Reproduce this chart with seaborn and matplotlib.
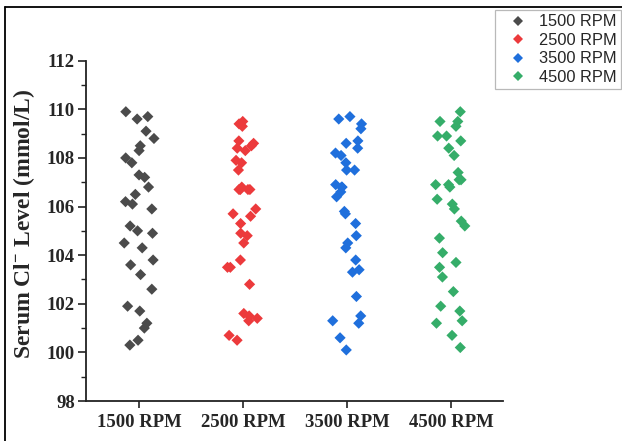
import numpy as np
import pandas as pd
import matplotlib
matplotlib.use("Agg")
import matplotlib.pyplot as plt
from matplotlib.lines import Line2D
import seaborn as sns

# Serum chloride readings (mmol/L) per rotor speed
groups = ["1500 RPM", "2500 RPM", "3500 RPM", "4500 RPM"]
rpm_1500 = [109.9, 109.7, 109.6, 109.1, 108.8, 108.5, 108.3, 108.0, 107.8, 107.3,
            107.2, 106.8, 106.5, 106.2, 106.1, 105.9, 105.2, 105.0, 104.9, 104.5,
            104.3, 103.8, 103.6, 103.2, 102.6, 101.9, 101.7, 101.2, 101.0, 100.5, 100.3]
rpm_2500 = [109.5, 109.4, 109.3, 108.7, 108.6, 108.5, 108.4, 108.3, 107.9, 107.8,
            107.5, 106.7, 106.7, 106.8, 106.7, 106.7, 105.9, 105.7, 105.6, 105.3,
            104.9, 104.8, 104.5, 103.8, 103.5, 103.5, 102.8, 101.6, 101.5, 101.4,
            101.3, 100.7, 100.5]
rpm_3500 = [109.7, 109.6, 109.4, 109.2, 108.7, 108.6, 108.4, 108.2, 108.1, 107.8,
            107.5, 107.5, 106.9, 106.8, 106.8, 106.6, 106.4, 105.8, 105.7, 105.3,
            104.8, 104.5, 104.3, 103.8, 103.4, 103.3, 102.3, 101.5, 101.3, 101.2,
            100.6, 100.1]
rpm_4500 = [109.9, 109.5, 109.5, 109.3, 108.9, 108.9, 108.7, 108.4, 108.1, 107.4,
            107.1, 107.1, 106.9, 106.9, 106.8, 106.3, 106.1, 105.9, 105.4, 105.2,
            104.7, 104.1, 103.7, 103.5, 103.1, 102.5, 101.9, 101.7, 101.3, 101.2,
            100.7, 100.2]
palette = ["#4b4b4b", "#ec3a3c", "#1f6fdc", "#35ad69"]
y_ticks = [98, 100, 102, 104, 106, 108, 110, 112]

values = [rpm_1500, rpm_2500, rpm_3500, rpm_4500]
df = pd.DataFrame({
    "Speed": np.repeat(groups, [len(v) for v in values]),
    "Cl": np.concatenate(values),
})

sns.set_theme(style="ticks")
plt.rcParams["font.family"] = ["Liberation Serif", "DejaVu Serif"]
plt.rcParams["mathtext.fontset"] = "custom"
plt.rcParams["mathtext.rm"] = "Liberation Serif:bold"
plt.rcParams["mathtext.bf"] = "Liberation Serif:bold"
plt.rcParams["mathtext.default"] = "bf"

fig = plt.figure(figsize=(6.22, 4.41), dpi=100)
ax = fig.add_axes([0.1383, 0.0907, 0.6704, 0.7717])

np.random.seed(7)
sns.stripplot(data=df, x="Speed", y="Cl", hue="Speed", order=groups,
              hue_order=groups, palette=palette, marker="D", size=5.7,
              linewidth=0, jitter=0.15, ax=ax, legend=True)

ax.set_xlim(-0.51, 3.5)
ax.set_ylim(98, 112)
ax.set_yticks(y_ticks)
ax.set_yticks(np.arange(99, 112, 2), minor=True)
ax.set_xlabel("")
ax.set_ylabel(r"Serum Cl$^{-}$ Level (mmol/L)", fontsize=17, fontweight="bold")
ax.yaxis.set_label_coords(-0.117, 0.52)

for lab in ax.get_xticklabels() + ax.get_yticklabels():
    lab.set_fontweight("bold")
    lab.set_fontsize(13.5)

sns.despine(ax=ax)
for side in ("left", "bottom"):
    ax.spines[side].set_linewidth(1.3)
    ax.spines[side].set_color("#222222")
ax.tick_params(axis="y", which="major", direction="out", length=6, width=1.2,
               pad=2, color="#222222")
ax.tick_params(axis="y", which="minor", direction="out", length=3.5, width=1.0,
               color="#222222")
ax.tick_params(axis="x", which="major", direction="out", length=5, width=1.2,
               pad=4, color="#222222")

leg = ax.legend(loc="upper left", bbox_to_anchor=(0.796, 0.977),
                bbox_transform=fig.transFigure, borderaxespad=0,
                fancybox=False, frameon=True, edgecolor="#a8a8a8",
                prop={"family": "Liberation Sans", "size": 11.8},
                labelspacing=0.22, handletextpad=0.15, borderpad=0.25,
                handlelength=2.3, markerscale=0.85)
leg.get_frame().set_linewidth(0.9)

# outer frame lines along the top and left edges of the canvas
fig.add_artist(Line2D([5 / 622, 5 / 622], [0, 1 - 7 / 441], color="black",
                      lw=1.3, transform=fig.transFigure))
fig.add_artist(Line2D([5 / 622, 1], [1 - 7 / 441, 1 - 7 / 441], color="black",
                      lw=1.3, transform=fig.transFigure))

fig.savefig("out.png", dpi=100)
